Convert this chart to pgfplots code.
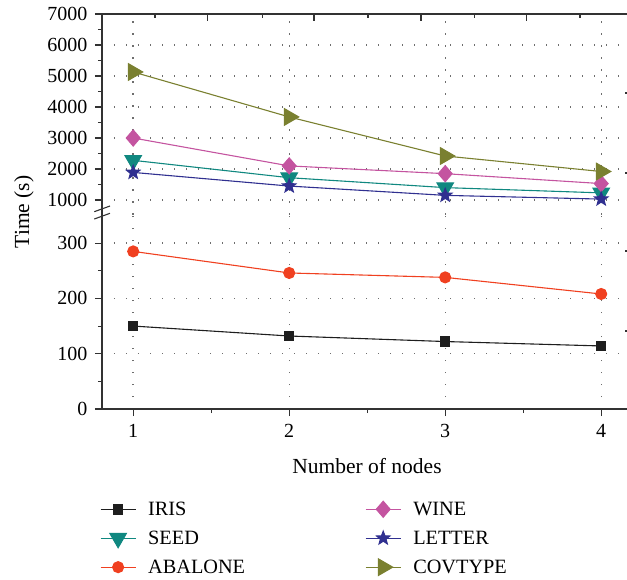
\documentclass[border=0pt]{standalone}
\usepackage{fontspec}
\setmainfont{Liberation Serif}
\usepackage{pgfplots}
\pgfplotsset{compat=1.18}

\definecolor{cIris}{RGB}{30,30,30}
\definecolor{cSeed}{RGB}{16,136,128}
\definecolor{cAbalone}{RGB}{240,64,32}
\definecolor{cWine}{RGB}{196,84,160}
\definecolor{cLetter}{RGB}{48,48,144}
\definecolor{cCov}{RGB}{122,128,48}
\definecolor{gridc}{RGB}{110,110,110}
\definecolor{axc}{RGB}{50,50,50}

\newcommand{\fs}{\fontsize{20}{24}\selectfont}
\newcommand{\fl}{\fontsize{20.3}{24}\selectfont}
\newcommand{\fa}{\fontsize{21.5}{25}\selectfont}

\pgfdeclareplotmark{fstar}{%
  \pgfpathmoveto{\pgfpointpolar{90}{\pgfplotmarksize}}%
  \pgfpathlineto{\pgfpointpolar{126}{0.42\pgfplotmarksize}}%
  \pgfpathlineto{\pgfpointpolar{162}{\pgfplotmarksize}}%
  \pgfpathlineto{\pgfpointpolar{198}{0.42\pgfplotmarksize}}%
  \pgfpathlineto{\pgfpointpolar{234}{\pgfplotmarksize}}%
  \pgfpathlineto{\pgfpointpolar{270}{0.42\pgfplotmarksize}}%
  \pgfpathlineto{\pgfpointpolar{306}{\pgfplotmarksize}}%
  \pgfpathlineto{\pgfpointpolar{342}{0.42\pgfplotmarksize}}%
  \pgfpathlineto{\pgfpointpolar{18}{\pgfplotmarksize}}%
  \pgfpathlineto{\pgfpointpolar{54}{0.42\pgfplotmarksize}}%
  \pgfpathclose
  \pgfusepathqfillstroke
}

\pgfplotsset{
  brk/.style={
    scale only axis, width=530.4pt,
    xmin=0.8, xmax=4.2,
    /pgf/number format/assume math mode=true,
    /pgf/number format/1000 sep={},
    tick label style={font=\fs},
    axis line style={-, axc, line width=1.1pt},
    tick style={axc, line width=1.1pt},
    major tick length=7pt, minor tick length=4pt,
    tick align=outside,
    major grid style={gridc, line width=1.4pt, dash pattern=on 1.4pt off 10.6pt},
    every axis plot/.append style={line width=1.1pt},
    clip=false,
  },
  sIris/.style={color=cIris, mark=square*, mark size=4.7pt},
  sSeed/.style={color=cSeed, mark=triangle*, mark size=9.5pt, mark options={rotate=180}},
  sAbalone/.style={color=cAbalone, mark=*, mark size=5.5pt},
  sWine/.style={color=cWine, mark=diamond*, mark size=8pt, mark options={xscale=1.15}},
  sLetter/.style={color=cLetter, mark=fstar, mark size=7pt},
  sCov/.style={color=cCov, mark=triangle*, mark size=9.5pt, mark options={rotate=-90}},
}

\begin{document}
\begin{tikzpicture}
% upper panel
\begin{axis}[brk,
  at={(102pt,-14pt)}, anchor=north west,
  height=200.9pt, ymin=520, ymax=7000,
  axis x line*=top, axis y line*=left,
  xtick={1.479,2.159,2.845,3.524},
  minor xtick={1.14,1.826,2.505,3.185,3.864},
  xticklabels={},
  xtick align=inside,
  ytick={1000,2000,3000,4000,5000,6000,7000},
  minor ytick={1500,2500,3500,4500,5500,6500},
  ymajorgrids=true,
  extra x ticks={1,2,3,4},
  extra x tick labels={},
  extra x tick style={xmajorgrids=true, major tick length=0pt},
  yticklabel style={xshift=-4pt},
]
\addplot[sSeed] coordinates {(1,2280) (2,1720) (3,1400) (4,1230)};
\addplot[sWine] coordinates {(1,3000) (2,2100) (3,1850) (4,1530)};
\addplot[sLetter] coordinates {(1,1890) (2,1450) (3,1150) (4,1030)};
\addplot[sCov] coordinates {(1,5130) (2,3680) (3,2420) (4,1920)};
\end{axis}
% lower panel
\begin{axis}[brk,
  at={(102pt,-409pt)}, anchor=south west,
  height=193.55pt, ymin=0, ymax=350,
  axis x line*=bottom, axis y line*=left,
  xtick={1,2,3,4},
  minor xtick={1.5,2.5,3.5},
  ytick={0,100,200,300},
  minor ytick={50,150,250},
  grid=major,
  yticklabel style={xshift=-4pt},
  xticklabel style={yshift=-5pt},
  legend columns=3, transpose legend,
  legend cell align=left,
  legend style={draw=none, fill=none, font=\fl, inner sep=0pt,
    at={(axis description cs:-0.004,-0.468)}, anchor=north west,
    nodes={inner sep=2pt},
    /tikz/every odd column/.append style={column sep=10pt},
    /tikz/every even column/.append style={column sep=118pt},
    row sep=10pt},
  legend image code/.code={\draw[mark repeat=2,mark phase=2,#1] plot coordinates {(0pt,0pt) (17.5pt,0pt) (35pt,0pt)};},
]
\addplot[sIris] coordinates {(1,150) (2,132) (3,122) (4,114)};
\addlegendentry{IRIS}
\addlegendimage{sSeed, line width=1.1pt}
\addlegendentry{SEED}
\addplot[sAbalone] coordinates {(1,285) (2,246) (3,238) (4,208)};
\addlegendentry{ABALONE}
\addlegendimage{sWine, line width=1.1pt}
\addlegendentry{WINE}
\addlegendimage{sLetter, line width=1.1pt}
\addlegendentry{LETTER}
\addlegendimage{sCov, line width=1.1pt}
\addlegendentry{COVTYPE}
\end{axis}
% axis break marks
\draw[axc, line width=1.1pt] (94.3pt,-211.7pt) -- (110pt,-206pt);
\draw[axc, line width=1.1pt] (94.3pt,-219pt) -- (110pt,-213.3pt);
% right-axis tick stubs
\foreach \yy in {93,173,251,331} {\draw[axc, line width=1.1pt] (625pt,-\yy pt) -- (632pt,-\yy pt);}
% axis titles
\node[font=\fa, rotate=90, anchor=base] at (29pt,-212pt) {Time (s)};
\node[font=\fa, anchor=base] at (367pt,-473pt) {Number of nodes};
\pgfresetboundingbox
\useasboundingbox (0pt,0pt) rectangle (627pt,-580pt);
\end{tikzpicture}
\end{document}
